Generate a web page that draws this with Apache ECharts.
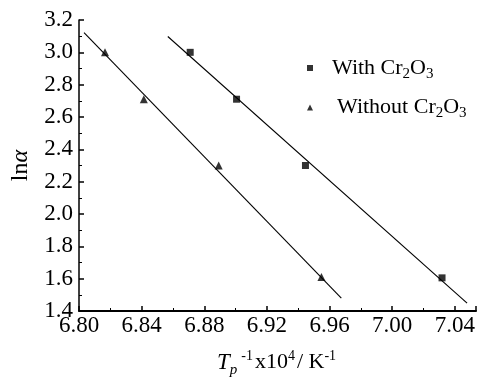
<!DOCTYPE html>
<html><head><meta charset="utf-8">
<script src="https://cdn.jsdelivr.net/npm/echarts@6/dist/echarts.min.js"></script>
<style>html,body{margin:0;padding:0;background:#fff}#c{width:478px;height:386px}</style>
</head><body><div id="c"></div>
<script>
var withX = [6.871, 6.9006, 6.9446, 7.0318];
var withY = [3.00, 2.71, 2.30, 1.605];
var withoutX = [6.8166, 6.8414, 6.8892, 6.9548];
var withoutY = [3.00, 2.71, 2.30, 1.61];
var fitWithX = [6.8567, 7.0478];
var fitWithY = [3.098, 1.449];
var fitWithoutX = [6.8032, 6.9675];
var fitWithoutY = [3.122, 1.48];
var seriesNames = ['With Cr2O3', 'Without Cr2O3'];

function pairs(xs, ys){ return xs.map(function(x,i){return [x, ys[i]];}); }
var F = 'Liberation Serif';
var FS = 23;
var chart = echarts.init(document.getElementById('c'));
chart.setOption({
  animation: false,
  backgroundColor: '#fff',
  grid: {left: 79, top: 20, right: 1, bottom: 75},
  legend: {
    data: seriesNames, orient: 'vertical', left: 302, top: 52,
    itemWidth: 6, itemHeight: 6, itemGap: 15,
    formatter: function(n){
      return n === seriesNames[0] ? '{f|With Cr}{s|2}{a|O}{s|3}' : '{g|Without Cr}{s|2}{a|O}{s|3}';
    },
    textStyle: {
      color: '#000', fontFamily: F, fontSize: 22,
      rich: {
        f: {fontFamily: F, fontSize: 22, color: '#000', padding: [0,0,0,14]},
        g: {fontFamily: F, fontSize: 22, color: '#000', padding: [0,0,0,19]},
        a: {fontFamily: F, fontSize: 22, color: '#000'},
        s: {fontFamily: F, fontSize: 15, color: '#000', padding: [12,0,0,0]}
      }
    }
  },
  xAxis: {
    type: 'value', min: 6.80, max: 7.0535, interval: 0.04,
    axisLine: {lineStyle: {color: '#000', width: 2}},
    axisTick: {inside: true, length: 5, lineStyle: {color: '#000', width: 1.5}},
    minorTick: {show: true, splitNumber: 2, length: 3, lineStyle: {color: '#000'}},
    splitLine: {show: false},
    axisLabel: {color: '#000', fontFamily: F, fontSize: FS, margin: 3, showMaxLabel: false,
      formatter: function(v){return v.toFixed(2);}},
    name: '{t|T}{p|p}{u|-1}{a|x10}{u|4}{a|/ K}{u|-1}',
    nameLocation: 'middle', nameGap: 36,
    nameTextStyle: {
      fontFamily: F, fontSize: 22, color: '#000',
      rich: {
        t: {fontFamily: F, fontSize: 23, fontStyle: 'italic', color: '#000'},
        p: {fontFamily: F, fontSize: 15, fontStyle: 'italic', color: '#000', padding: [16,4,0,0]},
        u: {fontFamily: F, fontSize: 14, color: '#000', padding: [0,2,12,0]},
        a: {fontFamily: F, fontSize: 22, color: '#000'}
      }
    }
  },
  yAxis: {
    type: 'value', min: 1.4, max: 3.2, interval: 0.2,
    axisLine: {show: true, lineStyle: {color: '#000', width: 1.5}},
    axisTick: {show: true, inside: true, length: 5, lineStyle: {color: '#000', width: 1.5}},
    minorTick: {show: true, splitNumber: 2, length: 3, lineStyle: {color: '#000'}},
    splitLine: {show: false},
    axisLabel: {color: '#000', fontFamily: F, fontSize: FS, margin: 6,
      formatter: function(v){return v.toFixed(1);}},
    name: '{n|ln}{i|α}', nameLocation: 'middle', nameGap: 46, nameRotate: 90,
    nameTextStyle: {
      fontFamily: F, fontSize: 24, color: '#000',
      rich: {
        n: {fontFamily: F, fontSize: 24, color: '#000'},
        i: {fontFamily: F, fontSize: 24, fontStyle: 'italic', color: '#000'}
      }
    }
  },
  series: [
    {name: seriesNames[0], type: 'scatter', symbol: 'rect', symbolSize: 7,
     itemStyle: {color: '#000'}, data: pairs(withX, withY), z: 3},
    {name: seriesNames[1], type: 'scatter', symbol: 'triangle', symbolSize: 8,
     itemStyle: {color: '#000'}, data: pairs(withoutX, withoutY), z: 3},
    {name: 'fit1', type: 'line', symbol: 'none', lineStyle: {color: '#000', width: 1.1},
     data: pairs(fitWithX, fitWithY)},
    {name: 'fit2', type: 'line', symbol: 'none', lineStyle: {color: '#000', width: 1.1},
     data: pairs(fitWithoutX, fitWithoutY)}
  ]
});
</script></body></html>
